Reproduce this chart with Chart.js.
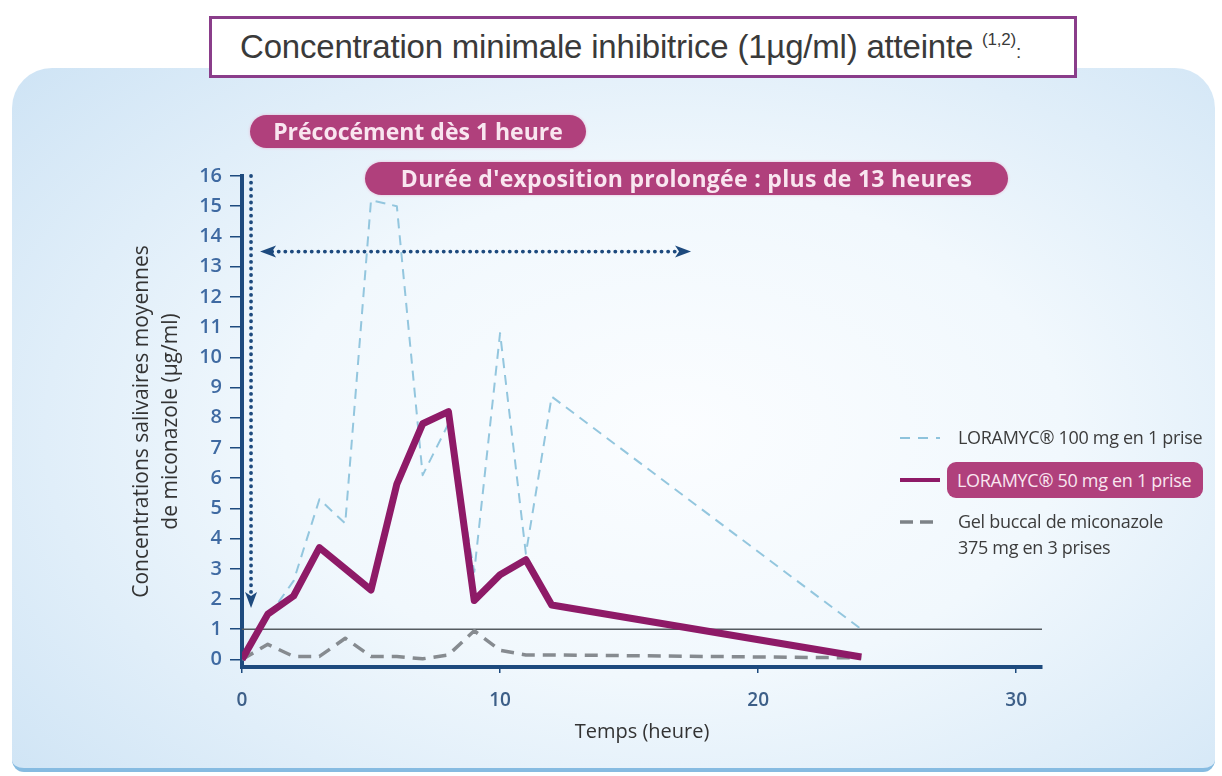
<!DOCTYPE html>
<html>
<head>
<meta charset="utf-8">
<script src="https://cdn.jsdelivr.net/npm/chart.js@4.4.1/dist/chart.umd.min.js"></script>
<style>
  html, body { margin: 0; padding: 0; width: 1222px; height: 776px; overflow: hidden; background: #fff; }
  #panel {
    position: absolute; left: 12px; top: 68px; width: 1203px; height: 700px;
    border-radius: 40px 40px 12px 12px;
    background: radial-gradient(ellipse 72% 78% at 55% 52%, #fbfdff 0%, #f1f8fd 45%, #cfe4f5 100%);
    border-bottom: 4px solid #86bbe1;
  }
  #chart { position: absolute; left: 0; top: 0; }
  .titlebox {
    position: absolute; left: 209px; top: 16px; width: 868px; height: 62px; box-sizing: border-box;
    border: 3px solid #8a3d8a; background: #fff;
    font-family: 'Liberation Sans', Arial, sans-serif; font-size: 33px; color: #3a3a3a;
    line-height: 56px; padding-left: 28px; white-space: nowrap; letter-spacing: -0.2px;
  }
  .titlebox sup { font-size: 17px; vertical-align: 13px; line-height: 0; }
  .pill {
    position: absolute; height: 33px; border-radius: 17px; background: #b0407c;
    color: #f9e6f0; font-family: 'Open Sans', sans-serif; font-weight: 700; font-size: 23px;
    line-height: 33px; text-align: center; white-space: nowrap; box-shadow: 0 0 3px #e9b8d3;
  }
  .leg { position: absolute; font-family: 'Open Sans', sans-serif; font-size: 18px; color: #3c3c3c; white-space: nowrap; letter-spacing: -0.3px; }
  .legpill { position: absolute; left: 947px; top: 462px; width: 256px; height: 36px; border-radius: 9px; background: #b0407c;
    color: #f9e6f0; font-family: 'Open Sans', sans-serif; font-size: 18px; line-height: 36px; letter-spacing: -0.3px; padding-left: 10px; box-sizing: border-box; white-space: nowrap; }
  svg.sample { position: absolute; left: 898px; width: 44px; height: 10px; }
</style>
</head>
<body>
<div id="panel"></div>
<canvas id="chart" width="1222" height="776"></canvas>
<div class="titlebox">Concentration minimale inhibitrice (1µg/ml) atteinte <sup>(1,2)</sup><span style="font-size:19px">:</span></div>
<div class="pill" style="left:250px;top:115px;width:336px;">Précocément dès 1 heure</div>
<div class="pill" style="left:365px;top:162px;width:643px;letter-spacing:0.3px;">Durée d'exposition prolongée : plus de 13 heures</div>

<svg class="sample" style="top:433px"><line x1="2" y1="5" x2="42" y2="5" stroke="#8ec3dc" stroke-width="2" stroke-dasharray="10 8"/></svg>
<div class="leg" style="left:958px;top:425px;">LORAMYC® 100 mg en 1 prise</div>
<svg class="sample" style="top:475px"><line x1="2" y1="5" x2="42" y2="5" stroke="#8e1a67" stroke-width="4"/></svg>
<div class="legpill">LORAMYC® 50 mg en 1 prise</div>
<svg class="sample" style="top:517px"><line x1="2" y1="5" x2="42" y2="5" stroke="#7d8287" stroke-width="3.5" stroke-dasharray="13 7"/></svg>
<div class="leg" style="left:958px;top:508px;line-height:26px;">Gel buccal de miconazole<br>375 mg en 3 prises</div>

<script>
// time points (hours)
var hours = [0, 1, 2, 3, 4, 5, 6, 7, 8, 9, 10, 11, 12, 24];
// mean salivary concentrations (µg/ml)
var loramyc50 = [0, 1.5, 2.1, 3.7, 3.0, 2.3, 5.8, 7.8, 8.2, 1.95, 2.8, 3.3, 1.8, 0.08];
var loramyc100 = [0, 1.4, 2.6, 5.3, 4.5, 15.2, 15.0, 6.1, 7.8, 2.9, 10.8, 3.5, 8.7, 1.0];
var gelBuccal = [0, 0.5, 0.1, 0.1, 0.7, 0.1, 0.1, 0.02, 0.15, 0.95, 0.3, 0.15, 0.15, 0.05];

var seriesNames = ['LORAMYC® 50 mg en 1 prise', 'LORAMYC® 100 mg en 1 prise', 'Gel buccal de miconazole 375 mg en 3 prises'];
var yTicks = [0, 1, 2, 3, 4, 5, 6, 7, 8, 9, 10, 11, 12, 13, 14, 15, 16];
var xTicks = [0, 10, 20, 30];

// concentration minimale inhibitrice
var micLevel = 1;
// annotation arrows (hours / µg/ml)
var onsetArrow = { x: 0.35, from: 16, to: 1.7 };
var exposureArrow = { y: 13.5, from: 0.7, to: 17.4 };

function toPoints(values) {
    return hours.map(function (h, i) { return { x: h, y: values[i] }; });
}

var navy = '#1d4a7e';

function drawArrowHead(ctx, x, y, angle) {
    ctx.save();
    ctx.translate(x, y);
    ctx.rotate(angle);
    ctx.beginPath();
    ctx.moveTo(0, 0);
    ctx.lineTo(-16, -6);
    ctx.lineTo(-12, 0);
    ctx.lineTo(-16, 6);
    ctx.closePath();
    ctx.fill();
    ctx.restore();
}

var annotations = {
    id: 'annotations',
    beforeDatasetsDraw: function (chart) {
        var ctx = chart.ctx, x = chart.scales.x, y = chart.scales.y;
        var py = y.getPixelForValue(micLevel);
        ctx.save();
        ctx.strokeStyle = '#555b60';
        ctx.lineWidth = 1.3;
        ctx.beginPath();
        ctx.moveTo(x.left, py);
        ctx.lineTo(x.right, py);
        ctx.stroke();
        ctx.restore();
    },
    afterDatasetsDraw: function (chart) {
        var ctx = chart.ctx, x = chart.scales.x, y = chart.scales.y;
        ctx.save();
        ctx.strokeStyle = navy;
        ctx.fillStyle = navy;
        ctx.lineWidth = 3.8;
        ctx.lineCap = 'round';
        ctx.setLineDash([0.1, 6.5]);

        // vertical arrow: onset
        var vx = x.getPixelForValue(onsetArrow.x);
        var vy1 = y.getPixelForValue(onsetArrow.from), vy2 = y.getPixelForValue(onsetArrow.to);
        ctx.beginPath();
        ctx.moveTo(vx, vy1);
        ctx.lineTo(vx, vy2 - 10);
        ctx.stroke();

        // horizontal arrow: exposure
        var hy = y.getPixelForValue(exposureArrow.y);
        var hx1 = x.getPixelForValue(exposureArrow.from), hx2 = x.getPixelForValue(exposureArrow.to);
        ctx.beginPath();
        ctx.moveTo(hx1 + 12, hy);
        ctx.lineTo(hx2 - 12, hy);
        ctx.stroke();

        ctx.setLineDash([]);
        drawArrowHead(ctx, vx, vy2, Math.PI / 2);
        drawArrowHead(ctx, hx1, hy, Math.PI);
        drawArrowHead(ctx, hx2, hy, 0);
        ctx.restore();
    }
};

var ctx = document.getElementById('chart').getContext('2d');
new Chart(ctx, {
    type: 'line',
    data: {
        datasets: [{
            label: seriesNames[0],
            data: toPoints(loramyc50),
            borderColor: '#8e1a67',
            borderWidth: 7
        }, {
            label: seriesNames[1],
            data: toPoints(loramyc100),
            borderColor: '#93c6de',
            borderWidth: 2,
            borderDash: [10, 7]
        }, {
            label: seriesNames[2],
            data: toPoints(gelBuccal),
            borderColor: '#868b90',
            borderWidth: 3.5,
            borderDash: [13, 8]
        }]
    },
    options: {
        responsive: false,
        animation: false,
        layout: { padding: { left: 100, top: 176, right: 180, bottom: 26 } },
        elements: {
            point: { radius: 0 },
            line: { tension: 0, fill: false, borderJoinStyle: 'round' }
        },
        plugins: {
            legend: { display: false },
            tooltip: { enabled: false }
        },
        scales: {
            x: {
                type: 'linear',
                min: 0,
                max: 31,
                afterFit: function (scale) { scale.height = 83; },
                afterBuildTicks: function (scale) { scale.ticks = xTicks.map(function (v) { return { value: v }; }); },
                ticks: { color: '#3d5f88', font: { family: 'Open Sans', size: 19, weight: '600' }, padding: 16 },
                grid: { drawOnChartArea: false, drawTicks: true, tickLength: 6, color: navy, lineWidth: 1.5 },
                border: { color: navy, width: 4 },
                title: {
                    display: true, text: 'Temps (heure)', color: '#333',
                    font: { family: 'Open Sans', size: 20 }, padding: { top: 2, bottom: 6 }
                }
            },
            y: {
                min: -0.25,
                max: 16,
                afterFit: function (scale) { scale.width = 142; },
                afterBuildTicks: function (scale) { scale.ticks = yTicks.map(function (v) { return { value: v }; }); },
                ticks: { color: '#3f6aa2', font: { family: 'Open Sans', size: 20, weight: '600' }, padding: 8 },
                grid: { drawOnChartArea: false, drawTicks: true, tickLength: 12, color: navy, lineWidth: 1.5 },
                border: { color: navy, width: 4 },
                title: {
                    display: true, text: ['Concentrations salivaires moyennes', 'de miconazole (µg/ml)'], color: '#333',
                    font: { family: 'Open Sans', size: 21, lineHeight: 1.35 }, padding: { top: 28 }
                }
            }
        }
    },
    plugins: [annotations]
});
</script>
</body>
</html>
